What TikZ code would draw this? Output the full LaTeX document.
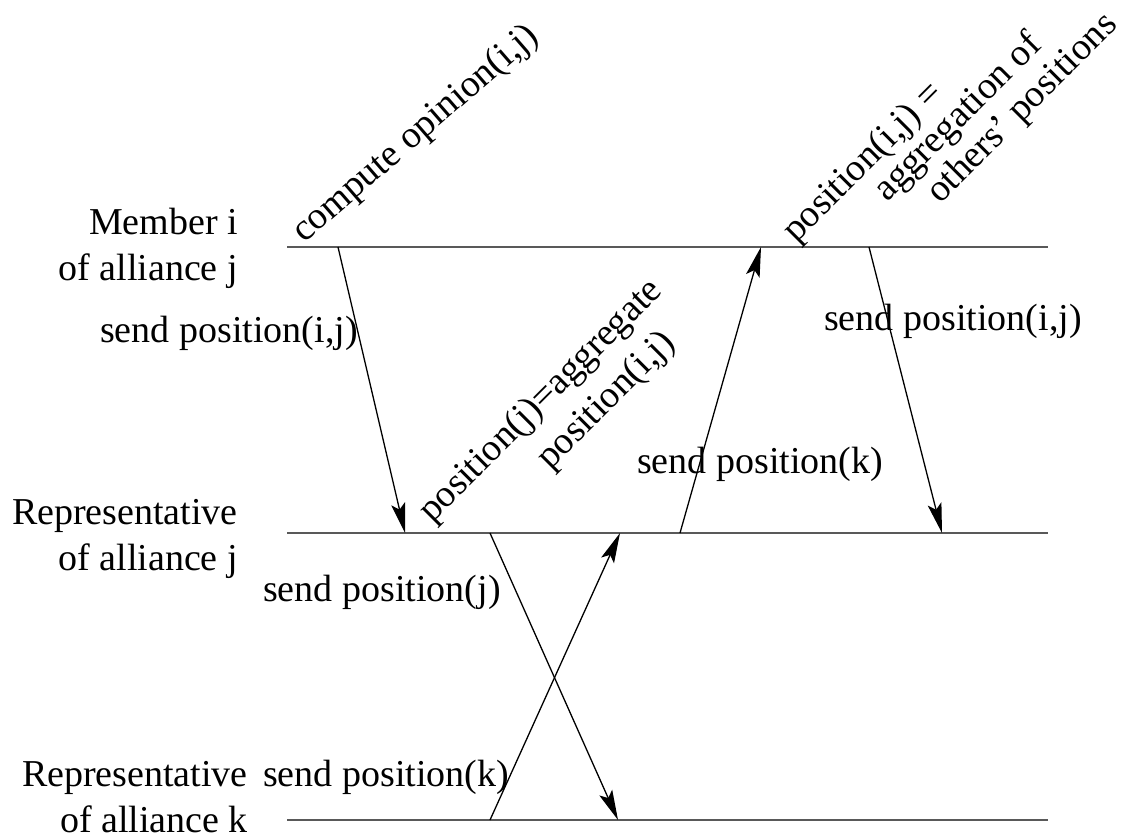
\documentclass[tikz,border=0pt]{standalone}
\usepackage{fontspec}
\setmainfont{Liberation Serif}
\usetikzlibrary{arrows.meta}
\begin{document}
\begin{tikzpicture}[x=1pt,y=-1pt,
    every node/.style={font=\fontsize{38}{46}\selectfont,inner sep=0pt},
    timeline/.style={draw=black!65,line width=2.4pt},
    msg/.style={-{Stealth[length=30pt,width=14pt,inset=6pt]},line width=1.3pt},
    slanted/.style={rotate=45,anchor=base west}]
    \useasboundingbox (0,0) rectangle (1125,839);
    % time lines
    \foreach \n/\y in {mem/247,repj/533,repk/820}{
        \coordinate (\n-l) at (287,\y);
        \coordinate (\n-r) at (1048,\y);
        \draw[timeline] (\n-l) -- (\n-r);
    }

    % who is who (base = last line)
    \node[align=right,anchor=base east] (memlbl) at (238,280) {Member i\\of alliance j};
    \node[align=right,anchor=base east] (repjlbl) at (238,570) {Representative\\of alliance j};
    \node[align=right,anchor=base east] (repklbl) at (248,832) {Representative\\of alliance k};

    % message ends
    \coordinate (m1) at (338,247);  \coordinate (j1) at (405,533);
    \coordinate (j2) at (490,533);  \coordinate (k1) at (618,820);
    \coordinate (k2) at (490,820);  \coordinate (j3) at (620,533);
    \coordinate (j4) at (680,533);  \coordinate (m2) at (761,247);
    \coordinate (m3) at (869,247);  \coordinate (j5) at (942,533);

    \draw[msg] (m1) -- (j1);
    \draw[msg] (j2) -- (k1);
    \draw[msg] (k2) -- (j3);
    \draw[msg] (j4) -- (m2);
    \draw[msg] (m3) -- (j5);

    % message labels
    \node[anchor=base west] (sendij1) at (100,342) {send position(i,j)};
    \node[anchor=base west] (sendij2) at (824,330) {send position(i,j)};
    \node[anchor=base west] (sendj) at (263,601) {send position(j)};
    \node[anchor=base west] (sendk1) at (637,473) {send position(k)};
    \node[anchor=base west] (sendk2) at (263,786) {send position(k)};

    % local steps
    \node[slanted,rotate=-4] (compute) at (304,244) {compute opinion(i,j)};
    \node[slanted] (aggj1) at (432,524) {position(j)=aggregate};
    \node[slanted] (aggj2) at (550,471) {position(i,j)};
    \node[slanted] (aggij1) at (796,244) {position(i,j) =};
    \node[slanted] (aggij2) at (887,203) {aggregation of};
    \node[slanted] (aggij3) at (940,205) {others’ positions};
\end{tikzpicture}
\end{document}
